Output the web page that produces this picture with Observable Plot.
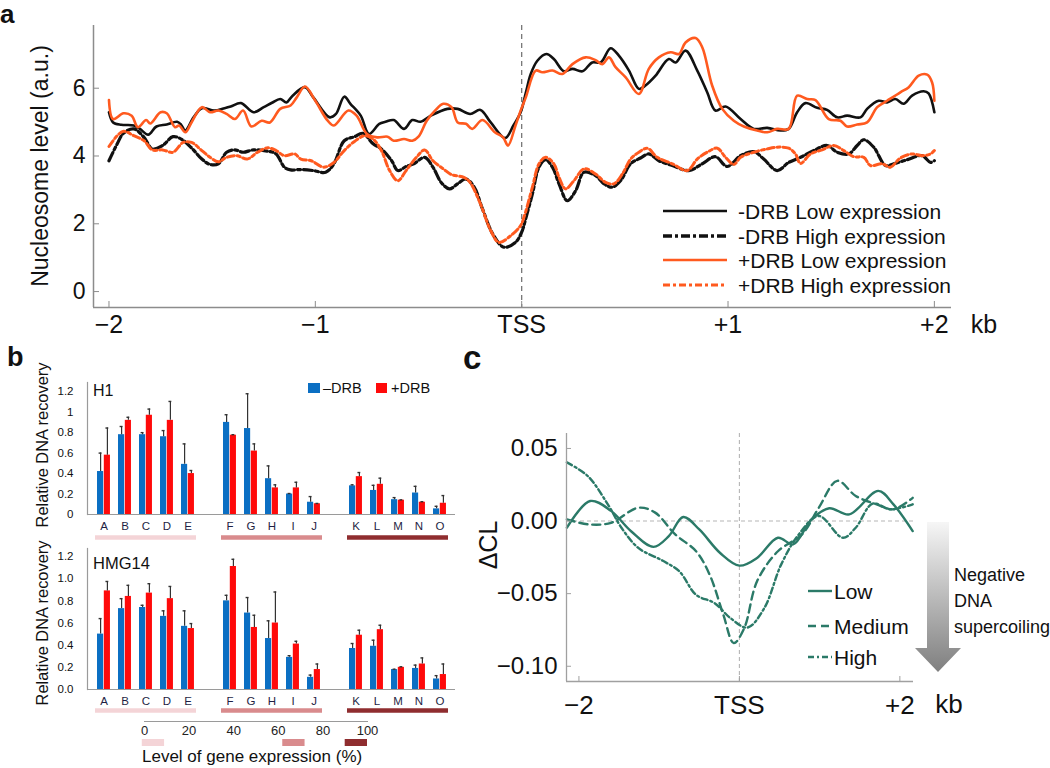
<!DOCTYPE html>
<html><head><meta charset="utf-8">
<script src="https://cdn.jsdelivr.net/npm/d3@7"></script>
<script src="https://cdn.jsdelivr.net/npm/@observablehq/plot@0.6"></script>
<style>
body{margin:0;background:#fff;}
#fig{position:relative;width:1050px;height:768px;overflow:hidden;background:#fff;font-family:"Liberation Sans",Arial,Helvetica,sans-serif;}
</style></head>
<body><div id="fig"></div>
<script>
// ---------------- Panel a: nucleosome profiles [kb from TSS, level] ----------------
const minusDrbLow = [[-2.00,5.29],[-1.98,4.99],[-1.94,4.92],[-1.88,4.90],[-1.85,4.80],[-1.81,4.63],[-1.77,4.87],[-1.72,4.93],[-1.67,5.01],[-1.65,4.92],[-1.63,4.75],[-1.59,5.14],[-1.55,5.41],[-1.49,5.34],[-1.44,5.41],[-1.41,5.46],[-1.36,5.56],[-1.30,5.29],[-1.25,5.44],[-1.21,5.57],[-1.17,5.68],[-1.14,5.58],[-1.11,5.78],[-1.05,6.03],[-1.01,5.73],[-0.93,5.14],[-0.90,5.24],[-0.86,5.75],[-0.83,5.54],[-0.78,5.19],[-0.74,4.65],[-0.69,4.95],[-0.66,5.01],[-0.62,5.06],[-0.57,4.80],[-0.53,5.06],[-0.49,5.01],[-0.44,5.19],[-0.36,5.39],[-0.31,5.39],[-0.25,5.24],[-0.20,5.36],[-0.15,4.99],[-0.08,4.53],[-0.04,4.90],[-0.005,5.29],[0.02,5.86],[0.044,6.42],[0.076,6.81],[0.12,7.01],[0.156,6.86],[0.205,6.50],[0.246,6.57],[0.294,6.50],[0.342,6.76],[0.383,6.76],[0.431,7.18],[0.471,6.96],[0.52,6.52],[0.568,5.98],[0.60,6.08],[0.649,6.37],[0.713,6.86],[0.746,6.76],[0.794,7.11],[0.851,6.52],[0.899,5.88],[0.939,5.34],[0.988,5.46],[1.061,5.09],[1.125,4.80],[1.19,4.83],[1.254,4.75],[1.294,4.80],[1.335,5.29],[1.375,5.56],[1.432,5.42],[1.48,5.36],[1.529,5.14],[1.577,5.19],[1.642,5.14],[1.674,5.39],[1.73,5.63],[1.771,5.58],[1.811,5.68],[1.851,5.54],[1.892,5.78],[1.948,5.91],[1.972,5.85],[2.00,5.29]];
const plusDrbLow = [[-2.00,5.65],[-1.98,5.09],[-1.93,5.26],[-1.89,5.19],[-1.86,4.85],[-1.82,5.06],[-1.80,4.96],[-1.75,5.29],[-1.72,5.26],[-1.68,4.85],[-1.66,4.90],[-1.63,4.70],[-1.60,4.99],[-1.55,5.44],[-1.51,5.29],[-1.47,5.34],[-1.43,5.24],[-1.39,5.09],[-1.35,5.34],[-1.31,4.87],[-1.26,5.04],[-1.22,4.99],[-1.17,5.39],[-1.12,5.49],[-1.09,5.73],[-1.05,6.05],[-1.00,5.63],[-0.94,5.04],[-0.91,4.90],[-0.84,5.34],[-0.80,5.19],[-0.75,4.65],[-0.70,4.55],[-0.65,4.57],[-0.62,4.45],[-0.57,4.50],[-0.53,4.45],[-0.50,4.57],[-0.46,5.04],[-0.42,5.34],[-0.38,5.54],[-0.34,5.44],[-0.31,4.99],[-0.27,4.95],[-0.24,4.80],[-0.19,5.06],[-0.13,4.70],[-0.09,4.55],[-0.066,4.31],[-0.03,4.90],[-0.005,5.34],[0.02,5.73],[0.068,6.52],[0.10,6.47],[0.149,6.52],[0.197,6.42],[0.246,6.71],[0.31,6.91],[0.358,6.83],[0.391,6.71],[0.423,6.91],[0.455,6.62],[0.504,6.32],[0.568,5.83],[0.616,6.57],[0.665,6.91],[0.722,7.06],[0.762,7.01],[0.794,7.35],[0.843,7.48],[0.875,7.21],[0.923,6.08],[0.972,5.39],[1.028,5.04],[1.077,4.87],[1.141,4.75],[1.19,4.70],[1.238,4.80],[1.294,4.80],[1.335,5.78],[1.384,5.68],[1.424,5.65],[1.488,5.09],[1.545,5.04],[1.577,4.87],[1.626,4.93],[1.674,4.99],[1.723,5.44],[1.771,5.63],[1.835,5.88],[1.876,6.03],[1.924,6.37],[1.965,6.40],[1.989,6.17],[2.00,5.63]];
const minusDrbHigh = [[-2.00,3.86],[-1.96,4.36],[-1.93,4.67],[-1.88,4.80],[-1.83,4.55],[-1.79,4.21],[-1.74,4.31],[-1.69,4.57],[-1.65,4.50],[-1.60,4.24],[-1.55,3.91],[-1.51,3.75],[-1.47,3.77],[-1.43,4.11],[-1.39,4.18],[-1.35,4.11],[-1.30,4.18],[-1.23,4.14],[-1.19,4.06],[-1.15,3.67],[-1.12,3.59],[-1.07,3.60],[-1.01,3.57],[-0.95,3.52],[-0.91,3.77],[-0.86,4.45],[-0.81,4.57],[-0.77,4.67],[-0.72,4.36],[-0.68,4.21],[-0.63,3.86],[-0.60,3.57],[-0.56,3.69],[-0.52,3.78],[-0.47,3.96],[-0.43,3.67],[-0.39,3.22],[-0.35,3.03],[-0.31,3.18],[-0.27,3.32],[-0.23,3.08],[-0.19,2.44],[-0.14,1.70],[-0.086,1.31],[-0.03,1.45],[0.003,1.80],[0.019,2.14],[0.052,2.88],[0.084,3.67],[0.116,3.89],[0.149,3.67],[0.181,3.18],[0.221,2.68],[0.262,2.98],[0.302,3.52],[0.358,3.42],[0.399,3.18],[0.439,3.08],[0.479,3.27],[0.528,3.77],[0.576,3.94],[0.616,4.06],[0.665,3.86],[0.73,3.72],[0.81,3.57],[0.875,3.77],[0.939,3.98],[0.996,3.69],[1.061,4.01],[1.125,4.13],[1.173,3.91],[1.238,3.57],[1.294,3.81],[1.351,3.96],[1.416,4.16],[1.48,4.31],[1.529,4.11],[1.585,4.06],[1.626,4.31],[1.658,4.48],[1.706,4.26],[1.763,3.72],[1.803,3.77],[1.868,3.89],[1.94,4.01],[1.981,3.81],[2.00,3.86]];
const plusDrbHigh = [[-2.00,4.28],[-1.96,4.60],[-1.93,4.73],[-1.88,4.60],[-1.83,4.45],[-1.79,4.18],[-1.74,4.18],[-1.69,4.11],[-1.64,4.40],[-1.60,4.40],[-1.55,4.16],[-1.51,3.96],[-1.47,3.83],[-1.43,3.96],[-1.38,4.01],[-1.33,3.91],[-1.28,4.11],[-1.23,4.24],[-1.19,4.16],[-1.15,4.01],[-1.10,4.06],[-1.07,3.91],[-1.02,3.86],[-0.96,3.67],[-0.91,3.81],[-0.86,4.16],[-0.81,4.43],[-0.76,4.60],[-0.72,4.50],[-0.68,4.16],[-0.64,3.57],[-0.60,3.27],[-0.56,3.57],[-0.51,3.96],[-0.47,4.18],[-0.43,3.86],[-0.38,3.62],[-0.34,3.45],[-0.28,3.37],[-0.25,3.22],[-0.20,2.59],[-0.15,1.80],[-0.11,1.45],[-0.053,1.65],[-0.005,1.95],[0.011,2.19],[0.052,3.08],[0.084,3.77],[0.116,3.96],[0.156,3.77],[0.181,3.37],[0.213,3.03],[0.253,3.27],[0.302,3.62],[0.358,3.47],[0.407,3.22],[0.447,3.18],[0.488,3.47],[0.528,3.91],[0.568,4.11],[0.609,4.23],[0.657,3.96],[0.73,3.77],[0.802,3.57],[0.851,3.91],[0.899,4.11],[0.948,4.23],[0.988,3.96],[1.028,3.75],[1.061,3.96],[1.125,4.11],[1.19,4.21],[1.238,4.26],[1.294,4.23],[1.327,4.06],[1.351,3.78],[1.40,4.06],[1.456,4.18],[1.512,4.31],[1.561,4.16],[1.609,3.98],[1.658,3.96],[1.69,3.72],[1.747,3.77],[1.787,3.67],[1.835,3.94],[1.892,4.06],[1.94,4.01],[1.981,4.06],[2.00,4.16]];
const aTicksX = [-2, -1, 0, 1, 2];
const aTicksY = [0, 2, 4, 6];
const aLegendLabels = ["-DRB Low expression", "-DRB High expression", "+DRB Low expression", "+DRB High expression"];

// ---------------- Panel b: relative DNA recovery ----------------
const genes = ["A","B","C","D","E","F","G","H","I","J","K","L","M","N","O"];
const groupFirst = ["A","F","K"];
const groupLast  = ["E","J","O"];
const h1Minus    = [0.42,0.78,0.78,0.76,0.49,0.90,0.84,0.35,0.20,0.12,0.28,0.235,0.145,0.21,0.055];
const h1MinusErr = [0.18,0.08,0.02,0.06,0.20,0.075,0.34,0.125,0.005,0.055,0.01,0.05,0.02,0.065,0.025];
const h1Plus     = [0.58,0.92,0.97,0.92,0.40,0.775,0.62,0.26,0.26,0.105,0.37,0.295,0.14,0.12,0.11];
const h1PlusErr  = [0.265,0.03,0.06,0.185,0.03,0.005,0.07,0.03,0.055,0.003,0.04,0.06,0.003,0.005,0.075];
const hmgMinus    = [0.50,0.73,0.74,0.66,0.57,0.80,0.69,0.46,0.29,0.11,0.37,0.39,0.18,0.19,0.095];
const hmgMinusErr = [0.14,0.09,0.02,0.05,0.14,0.05,0.14,0.16,0.015,0.02,0.045,0.055,0.003,0.03,0.03];
const hmgPlus     = [0.89,0.84,0.87,0.82,0.55,1.11,0.56,0.60,0.41,0.18,0.49,0.54,0.20,0.23,0.135];
const hmgPlusErr  = [0.085,0.10,0.085,0.11,0.045,0.065,0.11,0.28,0.025,0.05,0.045,0.04,0.005,0.055,0.095];
const bTicksY = [0, 0.2, 0.4, 0.6, 0.8, 1.0, 1.2];
const seriesLabels = ["\u2013DRB", "+DRB"];
const levelTicks = [0, 20, 40, 60, 80, 100];
const levelSwatchStart = [-1, 62, 90];
const levelSwatchEnd   = [9, 72, 100];

// ---------------- Panel c: ΔCL profiles [kb from TSS, ΔCL] ----------------
const clLow = [[-2.15,-0.0046],[-1.86,0.0138],[-1.60,0.0070],[-1.35,-0.0070],[-1.07,-0.0178],[-0.88,-0.0104],[-0.70,0.0028],[-0.50,-0.0058],[-0.24,-0.0220],[0.00,-0.0307],[0.22,-0.0254],[0.48,-0.0115],[0.67,-0.0160],[0.90,0.0012],[1.12,0.0088],[1.37,0.0046],[1.73,0.0208],[1.92,0.0115],[2.16,-0.0069]];
const clMedium = [[-2.15,0.0012],[-1.88,-0.0023],[-1.60,-0.0012],[-1.26,0.0092],[-1.05,0.0058],[-0.80,-0.0092],[-0.54,-0.0208],[-0.37,-0.0370],[-0.20,-0.0646],[-0.07,-0.0840],[0.06,-0.0738],[0.22,-0.0415],[0.48,-0.0208],[0.78,-0.0092],[0.99,0.0092],[1.22,0.0277],[1.45,0.0173],[1.71,0.0115],[1.92,0.0081],[2.16,0.0160]];
const clHigh = [[-2.15,0.0404],[-1.89,0.0310],[-1.64,0.0115],[-1.47,-0.0046],[-1.26,-0.0185],[-0.96,-0.0272],[-0.75,-0.0346],[-0.54,-0.0508],[-0.31,-0.0565],[-0.11,-0.0669],[0.10,-0.0734],[0.31,-0.0600],[0.52,-0.0300],[0.74,-0.0092],[0.99,0.0035],[1.29,-0.0115],[1.45,-0.0046],[1.66,0.0120],[1.88,0.0081],[2.16,0.0115]];
const cTicksX = [-2, 0, 2];
const cTicksY = [-0.10, -0.05, 0, 0.05];
const cLegendLabels = ["Low", "Medium", "High"];
const arrowLabel = ["Negative", "DNA", "supercoiling"];

// ---------------- styles ----------------
const FONT = '"Liberation Sans", Arial, Helvetica, sans-serif';
const BLACK = "#111111", ORANGE = "#ff5a1f", BLUE = "#0b6fc3", RED = "#ff0a0a", TEAL = "#2b7a68";
const AXIS = "#8c8c8c";
const GROUP_COLORS = ["#f4d4d7", "#d98b8d", "#8f2d2f"];
const fig = document.getElementById("fig");

function place(el, left, top) {
  el.style.position = "absolute";
  el.style.left = left + "px";
  el.style.top = top + "px";
  fig.appendChild(el);
  return el;
}
function label(str, x, y, {size = 16, weight = "normal", anchor = "start", rotate = 0, color = "#111", lineHeight = "1", valign = "-50%"} = {}) {
  const el = document.createElement("div");
  el.textContent = str;
  Object.assign(el.style, {fontSize: size + "px", fontWeight: weight, color, fontFamily: FONT, whiteSpace: "nowrap", lineHeight});
  const tx = rotate ? "-50%" : anchor === "middle" ? "-50%" : anchor === "end" ? "-100%" : "0";
  el.style.transform = `translate(${tx}, ${valign})` + (rotate ? ` rotate(${rotate}deg)` : "");
  return place(el, x, y);
}
const baseStyle = {background: "transparent", fontFamily: FONT, color: "#111", overflow: "visible"};
const pairs = (arr) => arr.map(([kb, v]) => ({kb, v}));

// ================= Panel a =================
const aXDomain = [-2.075, 2.083], aYDomain = [-0.47, 7.85];
const plotA = Plot.plot({
  width: 1050, height: 345, marginLeft: 93, marginRight: 99, marginTop: 25, marginBottom: 38,
  style: baseStyle,
  x: {domain: aXDomain}, y: {domain: aYDomain},
  marks: [
    Plot.ruleX([0], {stroke: "#777", strokeDasharray: "5,4", strokeWidth: 1.3}),
    Plot.line(pairs(minusDrbHigh), {x: "kb", y: "v", stroke: BLACK, strokeWidth: 3.2, strokeDasharray: "9,3,3,3", curve: "catmull-rom"}),
    Plot.line(pairs(plusDrbHigh), {x: "kb", y: "v", stroke: ORANGE, strokeWidth: 3, strokeDasharray: "7,3,3,3", curve: "catmull-rom"}),
    Plot.line(pairs(minusDrbLow), {x: "kb", y: "v", stroke: BLACK, strokeWidth: 2.6, curve: "catmull-rom"}),
    Plot.line(pairs(plusDrbLow), {x: "kb", y: "v", stroke: ORANGE, strokeWidth: 2.6, curve: "catmull-rom"}),
    Plot.ruleX([aXDomain[0]], {stroke: AXIS, strokeWidth: 1.5}),
    Plot.ruleY([aYDomain[0]], {stroke: AXIS, strokeWidth: 1.5}),
    Plot.axisY({ticks: aTicksY, tickFormat: d => String(d), tickSize: -6, tickPadding: 14, fontSize: 23, label: null, stroke: AXIS}),
    Plot.axisX({ticks: aTicksX, tickFormat: d => d === 0 ? "TSS" : d > 0 ? "+" + d : "\u2212" + Math.abs(d), tickSize: -6, tickPadding: 14, fontSize: 25, label: null, stroke: AXIS})
  ]
});
place(plotA, 0, 0);
label("a", 0, 0, {size: 26, weight: "bold", lineHeight: "1.15", valign: "0"});
label("Nucleosome level (a.u.)", 40, 166, {size: 23, rotate: -90});
label("kb", 984, 324, {size: 25, anchor: "middle"});

// legend a
{
  const styles = [
    {stroke: BLACK, w: 2.6, dash: null},
    {stroke: BLACK, w: 3.5, dash: "9,3,3,3"},
    {stroke: ORANGE, w: 2.6, dash: null},
    {stroke: ORANGE, w: 3, dash: "7,3,3,3"}
  ];
  const rowsY = [16, 41, 65, 90];
  const svg = d3.create("svg").attr("width", 340).attr("height", 110).style("overflow", "visible");
  aLegendLabels.forEach((t, i) => {
    svg.append("line").attr("x1", 13).attr("x2", 77).attr("y1", rowsY[i]).attr("y2", rowsY[i])
      .attr("stroke", styles[i].stroke).attr("stroke-width", styles[i].w).attr("stroke-dasharray", styles[i].dash);
    svg.append("text").attr("x", 88).attr("y", rowsY[i]).attr("dy", "0.36em").attr("font-family", FONT)
      .attr("font-size", 21).attr("fill", "#111").text(t);
  });
  place(svg.node(), 650, 195);
}

// ================= Panel b =================
const slots = [];
genes.forEach((g, i) => {
  if (i > 0 && groupFirst.includes(g)) slots.push("gap" + groupFirst.indexOf(g));
  slots.push(g);
});
function barPanel({minus, minusErr, plus, plusErr, yTop, tickFormat, top, height, marginTop, ruleDy}) {
  const rows = genes.map((gene, i) => ({gene, minus: minus[i], minusTop: minus[i] + minusErr[i], plus: plus[i], plusTop: plus[i] + plusErr[i]}));
  const groupRows = groupFirst.map((first, i) => ({first, last: groupLast[i], i}));
  const chart = Plot.plot({
    width: 470, height, marginLeft: 87, marginRight: 15, marginTop, marginBottom: 32,
    style: baseStyle,
    x: {domain: slots, padding: 0},
    y: {domain: [0, yTop]},
    marks: [
      Plot.barY(rows, {x: "gene", y: "minus", fill: BLUE, insetLeft: 4, insetRight: 10.85}),
      Plot.barY(rows, {x: "gene", y: "plus", fill: RED, insetLeft: 10.8, insetRight: 4.05}),
      Plot.ruleX(rows, {x: "gene", y1: "minus", y2: "minusTop", dx: -3.4, stroke: "#333", strokeWidth: 1.2}),
      Plot.ruleX(rows, {x: "gene", y1: "plus", y2: "plusTop", dx: 3.4, stroke: "#333", strokeWidth: 1.2}),
      Plot.tickY(rows, {x: "gene", y: "minusTop", insetLeft: 5.6, insetRight: 12.5, stroke: "#333", strokeWidth: 1.4}),
      Plot.tickY(rows, {x: "gene", y: "plusTop", insetLeft: 12.45, insetRight: 5.7, stroke: "#333", strokeWidth: 1.4}),
      Plot.ruleY([0], {stroke: "#9a9a9a", strokeWidth: 1.2}),
      Plot.frame({anchor: "left", stroke: "#9a9a9a", strokeWidth: 1.2}),
      ...groupRows.map(g => Plot.ruleY([g], {x1: "first", x2: "last", y: () => 0, dy: ruleDy, stroke: GROUP_COLORS[g.i], strokeWidth: 4.5, insetLeft: 2, insetRight: 2})),
      Plot.axisY({ticks: bTicksY, tickFormat, tickSize: 0, tickPadding: 14, fontSize: 11.5, label: null}),
      Plot.axisX({tickSize: 0, tickPadding: 7, fontSize: 11.5, tickFormat: d => d.startsWith("gap") ? "" : d, label: null, fill: "#1f1f44"})
    ]
  });
  return place(chart, 0, top);
}
barPanel({minus: h1Minus, minusErr: h1MinusErr, plus: h1Plus, plusErr: h1PlusErr, yTop: 1.29,
  tickFormat: d => String(+d.toFixed(1)), top: 370, height: 176, marginTop: 12, ruleDy: 23});
barPanel({minus: hmgMinus, minusErr: hmgMinusErr, plus: hmgPlus, plusErr: hmgPlusErr, yTop: 1.2726,
  tickFormat: d => d.toFixed(1), top: 537, height: 184, marginTop: 11, ruleDy: 21});

label("b", 7, 357, {size: 27, weight: "bold"});
label("Relative DNA recovery", 42, 445, {size: 16.4, rotate: -90});
label("Relative DNA recovery", 42, 623, {size: 16.4, rotate: -90});
label("H1", 93, 391, {size: 16});
label("HMG14", 93, 563, {size: 16.5});
// series legend
{
  const sw1 = document.createElement("div");
  Object.assign(sw1.style, {width: "12px", height: "10px", background: BLUE});
  place(sw1, 308, 383);
  label(seriesLabels[0], 323, 388, {size: 14.5});
  const sw2 = document.createElement("div");
  Object.assign(sw2.style, {width: "11px", height: "10px", background: RED});
  place(sw2, 376, 383);
  label(seriesLabels[1], 391, 388, {size: 14.5});
}
// expression-level scale
{
  const sw = levelSwatchStart.map((s, i) => ({start: s, end: levelSwatchEnd[i], i}));
  const lvl = Plot.plot({
    width: 470, height: 40, marginLeft: 144, marginRight: 103, marginTop: 9, marginBottom: 6,
    style: baseStyle,
    x: {domain: [0, 100], axis: null},
    marks: [
      Plot.frame({anchor: "top", stroke: "#9a9a9a", strokeWidth: 1}),
      Plot.text(levelTicks, {x: d => d, frameAnchor: "top", lineAnchor: "middle", dy: 9, fontSize: 13, fill: "#222"}),
      ...sw.map(s => Plot.rect([s], {x1: "start", x2: "end", insetTop: 18, fill: GROUP_COLORS[s.i]}))
    ]
  });
  place(lvl, 0, 712);
  label("Level of gene expression (%)", 142, 756, {size: 17});
}

// ================= Panel c =================
const cXDomain = [-2.155, 2.17], cYDomain = [-0.1105, 0.0603];
const plotC = Plot.plot({
  width: 580, height: 300, marginLeft: 96, marginRight: 137, marginTop: 13, marginBottom: 39,
  style: baseStyle,
  x: {domain: cXDomain}, y: {domain: cYDomain},
  marks: [
    Plot.ruleY([0], {stroke: "#b5b5b5", strokeDasharray: "4,3", strokeWidth: 1.1}),
    Plot.ruleX([0], {stroke: "#b5b5b5", strokeDasharray: "4,3", strokeWidth: 1.1}),
    Plot.line(pairs(clHigh), {x: "kb", y: "v", stroke: TEAL, strokeWidth: 2.4, strokeDasharray: "6,3,2,3", curve: "catmull-rom"}),
    Plot.line(pairs(clMedium), {x: "kb", y: "v", stroke: TEAL, strokeWidth: 2.4, strokeDasharray: "8,5", curve: "catmull-rom"}),
    Plot.line(pairs(clLow), {x: "kb", y: "v", stroke: TEAL, strokeWidth: 2.4, curve: "catmull-rom"}),
    Plot.ruleX([cXDomain[0]], {stroke: "#a0a0a0", strokeWidth: 1.3}),
    Plot.ruleY([cYDomain[0]], {stroke: "#a0a0a0", strokeWidth: 1.3}),
    Plot.axisY({ticks: cTicksY, tickFormat: d3.format(".2f"), tickSize: -5, tickPadding: 14, fontSize: 24, label: null, stroke: "#a0a0a0"}),
    Plot.axisX({ticks: cTicksX, tickFormat: d => d === 0 ? "TSS" : d > 0 ? "+" + d : "\u2212" + Math.abs(d), tickSize: -5, tickPadding: 19, fontSize: 26, label: null, stroke: "#a0a0a0"})
  ]
});
place(plotC, 470, 420);
label("c", 463, 357, {size: 33, weight: "bold"});
label("\u0394CL", 488, 545, {size: 25, rotate: -90});
label("kb", 949, 704, {size: 26, anchor: "middle"});
// legend c
{
  const dashes = [null, "8,5", "6,3,2,3"];
  const rowsY = [16, 51, 82];
  const svg = d3.create("svg").attr("width", 130).attr("height", 100).style("overflow", "visible");
  cLegendLabels.forEach((t, i) => {
    svg.append("line").attr("x1", 8).attr("x2", 32).attr("y1", rowsY[i]).attr("y2", rowsY[i])
      .attr("stroke", TEAL).attr("stroke-width", 2.4).attr("stroke-dasharray", dashes[i]);
    svg.append("text").attr("x", 34).attr("y", rowsY[i]).attr("dy", "0.36em").attr("font-family", FONT)
      .attr("font-size", 21).attr("fill", "#111").text(t);
  });
  place(svg.node(), 800, 575);
}
// gradient arrow
{
  const svg = d3.create("svg").attr("width", 60).attr("height", 165);
  const grad = svg.append("defs").append("linearGradient").attr("id", "arrowGrad").attr("x1", 0).attr("y1", 0).attr("x2", 0).attr("y2", 1);
  grad.append("stop").attr("offset", "0%").attr("stop-color", "#f6f6f6");
  grad.append("stop").attr("offset", "100%").attr("stop-color", "#7f7f7f");
  svg.append("polygon").attr("points", "17,7 39,7 39,133 51,133 28,157 5,133 17,133").attr("fill", "url(#arrowGrad)");
  place(svg.node(), 910, 515);
  arrowLabel.forEach((t, i) => label(t, 954, [575, 601, 627][i], {size: 18}));
}
</script>
</body></html>
